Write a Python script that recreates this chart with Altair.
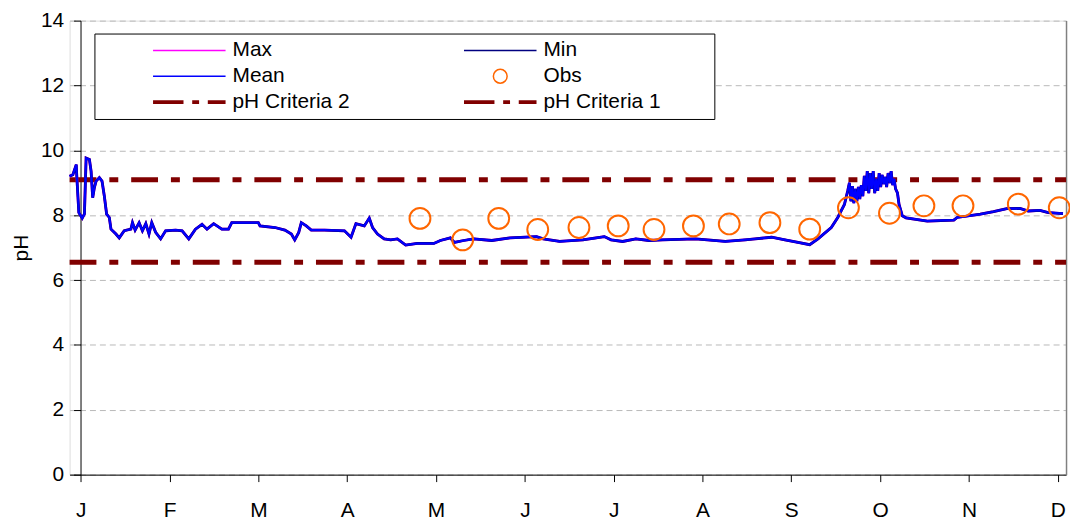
import altair as alt
import pandas as pd

# ---------------- data ----------------
month_labels = ['J', 'F', 'M', 'A', 'M', 'J', 'J', 'A', 'S', 'O', 'N', 'D']
month_ticks = list(range(12))          # x unit = months since 1 Jan
x_domain = [-0.126, 11.093]
y_ticks = [0, 2, 4, 6, 8, 10, 12, 14]

# continuous record (Max / Min / Mean overlap almost everywhere)
ts_month = [
    -0.126, -0.089, -0.051, -0.045, -0.022, 0.016, 0.041, 0.060, 0.097, 0.116,
    0.134, 0.153, 0.172, 0.209, 0.239, 0.265, 0.291, 0.321, 0.340, 0.396,
    0.433, 0.489, 0.564, 0.582, 0.612, 0.657, 0.694, 0.732, 0.768, 0.799,
    0.843, 0.899, 0.955, 1.067, 1.141, 1.216, 1.291, 1.365, 1.421, 1.496,
    1.588, 1.663, 1.700, 1.999, 2.018, 2.186, 2.298, 2.371, 2.409, 2.454,
    2.483, 2.539, 2.595, 2.745, 2.969, 3.043, 3.098, 3.192, 3.248, 3.285,
    3.341, 3.416, 3.490, 3.565, 3.658, 3.789, 3.975, 4.049, 4.161, 4.206,
    4.311, 4.423, 4.628, 4.832, 5.131, 5.206, 5.391, 5.653, 5.802, 5.895,
    5.970, 6.101, 6.249, 6.398, 6.548, 6.921, 7.256, 7.480, 7.592, 7.779,
    7.928, 8.076, 8.207, 8.300, 8.450, 8.523, 8.598, 8.635, 8.654, 8.671,
    8.688, 8.704, 8.721, 8.738, 8.755, 8.771, 8.788, 8.805, 8.822, 8.838,
    8.855, 8.872, 8.889, 8.905, 8.922, 8.939, 8.956, 8.973, 8.989, 9.006,
    9.023, 9.040, 9.057, 9.073, 9.090, 9.107, 9.124, 9.141, 9.157, 9.174,
    9.195, 9.213, 9.250, 9.291, 9.383, 9.531, 9.830, 9.867, 10.128, 10.277,
    10.425, 10.575, 10.668, 10.799, 10.892, 11.059,
]
ts_ph = [
    9.20, 9.25, 9.56, 9.20, 8.08, 7.91, 8.04, 9.76, 9.72, 9.36,
    8.54, 8.85, 9.05, 9.16, 9.05, 8.59, 8.03, 7.93, 7.57, 7.42,
    7.30, 7.52, 7.57, 7.77, 7.54, 7.77, 7.52, 7.74, 7.42, 7.77,
    7.47, 7.27, 7.52, 7.54, 7.52, 7.27, 7.57, 7.72, 7.57, 7.74,
    7.57, 7.57, 7.77, 7.77, 7.67, 7.62, 7.54, 7.42, 7.24, 7.47,
    7.77, 7.67, 7.54, 7.54, 7.52, 7.32, 7.74, 7.67, 7.91, 7.62,
    7.42, 7.27, 7.24, 7.27, 7.08, 7.13, 7.13, 7.22, 7.30, 7.16,
    7.22, 7.27, 7.22, 7.30, 7.34, 7.27, 7.19, 7.24, 7.30, 7.34,
    7.24, 7.19, 7.27, 7.22, 7.24, 7.27, 7.19, 7.24, 7.27, 7.32,
    7.24, 7.16, 7.09, 7.27, 7.62, 7.93, 8.33, 8.75, 9.00, 8.43,
    8.90, 8.37, 8.81, 8.43, 8.87, 8.50, 8.93, 8.59, 9.21, 8.75,
    9.36, 8.68, 9.30, 8.81, 9.36, 8.68, 9.12, 8.75, 9.30, 8.87,
    9.24, 8.96, 9.18, 8.87, 9.30, 8.99, 9.36, 8.93, 9.12, 8.81,
    8.69, 8.33, 7.98, 7.92, 7.88, 7.82, 7.85, 7.93, 8.03, 8.11,
    8.20, 8.21, 8.13, 8.15, 8.08, 8.05,
]

# grab-sample observations
obs_month = [3.819, 4.300, 4.706, 5.145, 5.609, 6.051, 6.454, 6.898, 7.301,
             7.759, 8.207, 8.643, 9.105, 9.493, 9.933, 10.556, 11.017]
obs_ph = [7.90, 7.24, 7.90, 7.56, 7.62, 7.67, 7.56, 7.67, 7.73,
          7.77, 7.57, 8.23, 8.06, 8.29, 8.29, 8.34, 8.23]

# criteria lines
crit_month = [-0.126, 11.093]
crit2_ph = [9.09, 9.09]
crit1_ph = [6.55, 6.55]

series_names = ['Max', 'Min', 'Mean', 'Obs', 'pH Criteria 2', 'pH Criteria 1']
series_colors = ['#FF00FF', '#000080', '#0000FF', '#FF6600', '#800000', '#800000']

# ---------------- tables ----------------
rows = []
for name in ['Max', 'Min', 'Mean']:
    rows += [{'m': m, 'ph': v, 'series': name} for m, v in zip(ts_month, ts_ph)]
lines_df = pd.DataFrame(rows)
obs_df = pd.DataFrame({'m': obs_month, 'ph': obs_ph, 'series': 'Obs'})
crit_df = pd.DataFrame(
    [{'m': m, 'ph': v, 'series': 'pH Criteria 2'} for m, v in zip(crit_month, crit2_ph)]
    + [{'m': m, 'ph': v, 'series': 'pH Criteria 1'} for m, v in zip(crit_month, crit1_ph)]
)

FONT = 'Liberation Sans'
FS = 21

# legend symbol shapes (unit square -1..1)
line_path = 'M-1,0H1'
circle_path = 'M0.19,0A0.19,0.19 0 1,1 -0.19,0A0.19,0.19 0 1,1 0.19,0Z'
dash_path = ' '.join(
    'M-1,%s H-0.16 M0.08,%s H0.27 M0.51,%s H1' % (o, o, o) for o in ('0', '0.03', '-0.03')
)
series_shapes = [line_path, line_path, line_path, circle_path, dash_path, dash_path]

label_expr = '[' + ','.join("'%s'" % s for s in month_labels) + '][datum.value]'
x_axis = alt.Axis(values=month_ticks, labelExpr=label_expr, grid=False, title=None,
                  domainColor='black', tickColor='black', tickSize=7,
                  labelFont=FONT, labelFontSize=FS, labelColor='black',
                  labelPadding=18, labelFlush=False, labelOverlap=False)
x_enc = alt.X('m:Q', scale=alt.Scale(domain=x_domain, nice=False, zero=False), axis=x_axis)

y_scale = alt.Scale(domain=[0, 14], nice=False)
y_left = alt.Axis(orient='left', values=y_ticks, offset=-11, grid=True,
                  gridColor='#B8B8B8', gridDash=[6, 4], gridWidth=1,
                  domainColor='black', tickColor='black', tickSize=7,
                  labelFont=FONT, labelFontSize=FS, labelColor='black', labelPadding=10,
                  title='pH', titleFont=FONT, titleFontSize=FS, titleFontWeight='normal',
                  titleColor='black', titlePadding=9)
y_right = alt.Axis(orient='right', labels=False, ticks=False, grid=False, title=None,
                   domainColor='#808080', domainWidth=1.5)

# tiny white spacer title on the right widens the frame as in the reference
legend = alt.Legend(
    title='.', titleOrient='right', titleFont=FONT, titleFontSize=6,
    titlePadding=46, titleColor='white',
    orient='none', legendX=25, legendY=13, columns=2, direction='horizontal',
    symbolSize=5329, symbolStrokeWidth=1.5, symbolOpacity=1,
    symbolFillColor='transparent',
    labelFont=FONT, labelFontSize=FS, labelColor='black', labelLimit=400,
    strokeColor='black', fillColor='white', padding=6,
    rowPadding=4, columnPadding=62, symbolOffset=52, labelOffset=6,
    clipHeight=22,
)
color_enc = alt.Color('series:N', scale=alt.Scale(domain=series_names, range=series_colors),
                      legend=legend)
shape_enc = alt.Shape('series:N', scale=alt.Scale(domain=series_names, range=series_shapes),
                      legend=legend)

crit_layer = alt.Chart(crit_df).mark_line(strokeCap='butt').encode(
    x=x_enc, y=alt.Y('ph:Q', scale=y_scale, axis=y_left), color=color_enc,
    strokeWidth=alt.value(5), strokeDash=alt.value([27, 13, 9, 13]))

def line_layer(name, width):
    return alt.Chart(lines_df).transform_filter(
        alt.datum.series == name
    ).mark_line().encode(
        x=x_enc, y=alt.Y('ph:Q', scale=y_scale, axis=None), color=color_enc,
        strokeWidth=alt.value(width))

max_layer = line_layer('Max', 2.8)
min_layer = line_layer('Min', 2.8)
mean_layer = line_layer('Mean', 2.0)

obs_layer = alt.Chart(obs_df).mark_point(filled=False, opacity=1).encode(
    x=x_enc, y=alt.Y('ph:Q', scale=y_scale, axis=y_right), color=color_enc,
    shape=shape_enc, size=alt.value(12200), strokeWidth=alt.value(2))

chart = alt.layer(crit_layer, max_layer, min_layer, mean_layer, obs_layer).resolve_axis(
    y='independent'
).properties(
    width=1003, height=457,
    autosize=alt.AutoSizeParams(type='none'),
    padding={'left': 62, 'top': 11, 'right': 4, 'bottom': 50},
    background='white',
).configure_view(stroke=None).configure(font=FONT)

chart.save('out.html', embed_options={'renderer': 'svg', 'actions': False})
